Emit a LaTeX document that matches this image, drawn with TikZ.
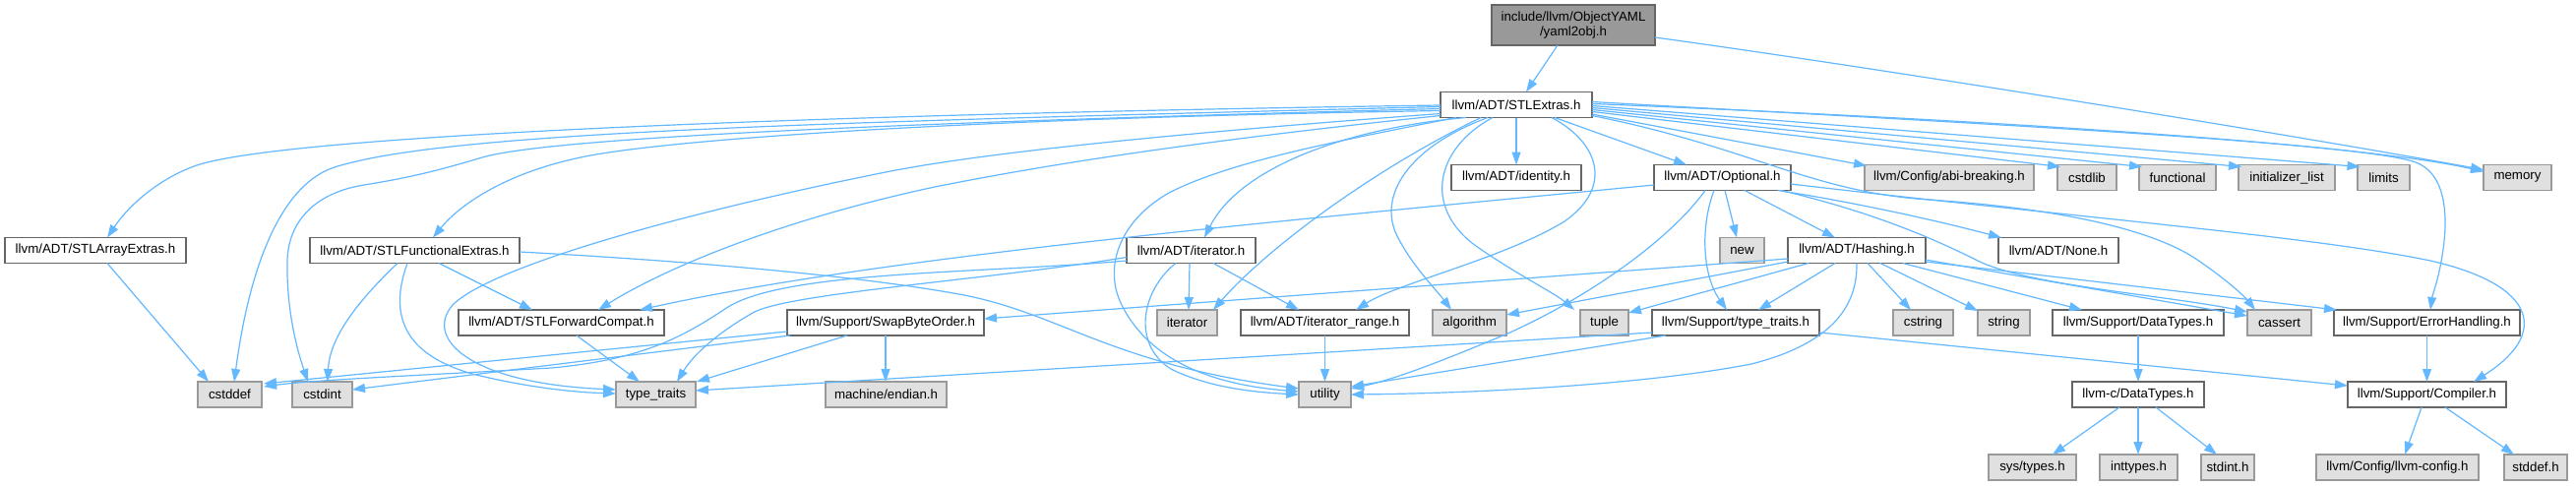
\documentclass[tikz,border=0pt]{standalone}
\usepackage{fontspec}
\setmainfont{Liberation Sans}
\usetikzlibrary{arrows.meta,calc}
\definecolor{edgec}{HTML}{63B8FF}
\definecolor{sysfill}{HTML}{E0E0E0}
\definecolor{sysdraw}{HTML}{999999}
\definecolor{hdrdraw}{HTML}{666666}
\definecolor{rootfill}{HTML}{999999}
\tikzset{
  box/.style={draw=hdrdraw, fill=white, line width=1.2pt, inner sep=0pt, minimum height=26pt, font=\fontsize{13.3}{15}\selectfont},
  sysbox/.style={box, draw=sysdraw, fill=sysfill},
  rootbox/.style={box, fill=rootfill, minimum height=41pt, align=center},
  dep/.style={draw=edgec, line width=1.2pt, -{Triangle[length=13pt,width=9pt]}}
}
\begin{document}
\begin{tikzpicture}[x=1pt,y=-1pt]
\fill[white] (0,0) rectangle (2618,493);
\useasboundingbox (0,0) rectangle (2618,493);
% nodes
\node[rootbox, minimum width=166pt] (root) at (1599,25.5) {include/llvm/ObjectYAML\\/yaml2obj.h};
\node[box, minimum width=154pt] (stl) at (1541,106.5) {llvm/ADT/STLExtras.h};
\node[box, minimum width=132pt] (identity) at (1541,180.5) {llvm/ADT/identity.h};
\node[box, minimum width=139pt] (opt) at (1750.5,180.5) {llvm/ADT/Optional.h};
\node[sysbox, minimum width=172pt] (abi) at (1981,180.5) {llvm/Config/abi-breaking.h};
\node[sysbox, minimum width=60pt] (cstdlib) at (2121,180.5) {cstdlib};
\node[sysbox, minimum width=78pt] (functional) at (2213,180.5) {functional};
\node[sysbox, minimum width=98pt] (initlist) at (2324,180.5) {initializer\_list};
\node[sysbox, minimum width=53pt] (limits) at (2422.5,180.5) {limits};
\node[sysbox, minimum width=69pt] (memory) at (2558.5,180.5) {memory};
\node[box, minimum width=184pt] (arr) at (97,254.5) {llvm/ADT/STLArrayExtras.h};
\node[box, minimum width=213pt] (func) at (421.5,254.5) {llvm/ADT/STLFunctionalExtras.h};
\node[box, minimum width=131pt] (iterh) at (1210.5,254.5) {llvm/ADT/iterator.h};
\node[sysbox, minimum width=45pt] (new) at (1770.5,254.5) {new};
\node[box, minimum width=140pt] (hash) at (1887,254.5) {llvm/ADT/Hashing.h};
\node[box, minimum width=122pt] (none) at (2092,254.5) {llvm/ADT/None.h};
\node[box, minimum width=209pt] (fwd) at (570.5,328) {llvm/ADT/STLForwardCompat.h};
\node[box, minimum width=200pt] (swap) at (900,328) {llvm/Support/SwapByteOrder.h};
\node[sysbox, minimum width=61pt] (iter) at (1206.5,328) {iterator};
\node[box, minimum width=171pt] (range) at (1346.5,328) {llvm/ADT/iterator\_range.h};
\node[sysbox, minimum width=75pt] (algo) at (1493.5,328) {algorithm};
\node[sysbox, minimum width=49pt] (tuple) at (1630.5,328) {tuple};
\node[box, minimum width=170pt] (stt) at (1764,328) {llvm/Support/type\_traits.h};
\node[sysbox, minimum width=61pt] (cstring) at (1954.5,328) {cstring};
\node[sysbox, minimum width=53pt] (string) at (2036.5,328) {string};
\node[box, minimum width=174pt] (dtypes) at (2173,328) {llvm/Support/DataTypes.h};
\node[sysbox, minimum width=65pt] (cassert) at (2316.5,328) {cassert};
\node[box, minimum width=189pt] (err) at (2466.5,328) {llvm/Support/ErrorHandling.h};
\node[sysbox, minimum width=65pt] (cstddef) at (233.5,401) {cstddef};
\node[sysbox, minimum width=61pt] (cstdint) at (327.5,401) {cstdint};
\node[sysbox, minimum width=81pt] (tt) at (666.5,401) {type\_traits};
\node[sysbox, minimum width=123pt] (endian) at (900.5,401) {machine/endian.h};
\node[sysbox, minimum width=53pt] (utility) at (1346.5,401) {utility};
\node[box, minimum width=134pt] (cdt) at (2173,401) {llvm-c/DataTypes.h};
\node[box, minimum width=161pt] (comp) at (2466.5,401) {llvm/Support/Compiler.h};
\node[sysbox, minimum width=89pt] (systypes) at (2065.5,475) {sys/types.h};
\node[sysbox, minimum width=79pt] (inttypes) at (2173.5,475) {inttypes.h};
\node[sysbox, minimum width=54pt] (stdint) at (2264,475) {stdint.h};
\node[sysbox, minimum width=165pt] (llvmcfg) at (2436.5,475) {llvm/Config/llvm-config.h};
\node[sysbox, minimum width=64pt] (stddef) at (2577,475) {stddef.h};
% root edges
\draw[dep] ($(root)+(-16,20.5)$) -- ($(stl)+(10,-13)$);
\draw[dep] ($(root)+(83,12.5)$) .. controls (1900,68) and (2300,132) .. ($(memory)+(-34.5,-8)$);
% STLExtras, left side
\draw[dep] ($(stl)+(-77,0.5)$) .. controls (900,115) and (300,135) .. (200,168) .. controls (160,182) and (130,210) .. ($(arr)+(12,-13)$);
\draw[dep] ($(stl)+(-77,2)$) .. controls (800,125) and (450,135) .. (340,170) .. controls (290,186) and (255,260) .. ($(cstddef)+(4.5,-13)$);
\draw[dep] ($(stl)+(-77,4)$) .. controls (900,125) and (560,140) .. (490,160) .. controls (450,172) and (420,180) .. (370,188) .. controls (320,196) and (293,225) .. (292,265) .. controls (291,310) and (300,350) .. ($(cstdint)+(-14.5,-13)$);
\draw[dep] ($(stl)+(-77,6)$) .. controls (1000,120) and (700,140) .. (600,158) .. controls (520,173) and (470,205) .. ($(func)+(18.5,-13)$);
\draw[dep] ($(stl)+(-77,9)$) .. controls (1200,135) and (1000,155) .. (900,175) .. controls (700,215) and (500,270) .. (460,310) .. controls (430,345) and (480,390) .. ($(tt)+(-40.5,-5)$);
\draw[dep] ($(stl)+(-77,11)$) .. controls (1200,145) and (1050,170) .. (950,190) .. controls (800,222) and (680,270) .. ($(fwd)+(37.5,-13)$);
\draw[dep] ($(stl)+(-61,13)$) .. controls (1350,145) and (1250,165) .. (1190,195) .. controls (1140,222) and (1120,270) .. (1140,310) .. controls (1165,360) and (1220,390) .. ($(utility)+(-26.5,-3)$);
\draw[dep] ($(stl)+(-51,13)$) .. controls (1370,130) and (1260,170) .. ($(iterh)+(13.5,-13)$);
\draw[dep] ($(stl)+(-36,13)$) .. controls (1400,170) and (1290,250) .. ($(iter)+(26.5,-13)$);
\draw[dep] ($(stl)+(-29,13)$) .. controls (1430,150) and (1400,200) .. (1420,240) .. controls (1435,270) and (1460,295) .. ($(algo)+(-18.5,-13)$);
\draw[dep] ($(stl)+(-24,13)$) .. controls (1460,150) and (1445,210) .. (1500,250) .. controls (1540,278) and (1580,298) .. ($(tuple)+(-30.5,-13)$);
\draw[dep] ($(stl)+(0,13)$) -- ($(identity)+(0,-13)$);
\draw[dep] ($(stl)+(36,13)$) .. controls (1625,145) and (1640,190) .. (1590,225) .. controls (1530,262) and (1420,288) .. ($(range)+(31.5,-13)$);
\draw[dep] ($(stl)+(39,13)$) -- ($(opt)+(-36.5,-13)$);
% STLExtras, right side
\draw[dep] ($(stl)+(77,9.5)$) -- ($(abi)+(-84,-12)$);
\draw[dep] ($(stl)+(77,7)$) -- ($(cstdlib)+(-27,-11)$);
\draw[dep] ($(stl)+(77,5)$) -- ($(functional)+(-36,-11)$);
\draw[dep] ($(stl)+(77,3)$) -- ($(initlist)+(-46,-11)$);
\draw[dep] ($(stl)+(77,1)$) -- ($(limits)+(-24,-11)$);
\draw[dep] ($(stl)+(77,-1)$) .. controls (2100,125) and (2420,150) .. ($(memory)+(-34.5,-6)$);
\draw[dep] ($(stl)+(77,11)$) .. controls (1780,150) and (1840,195) .. (1960,203) .. controls (2080,211) and (2180,230) .. (2230,262) .. controls (2260,282) and (2280,300) .. ($(cassert)+(-24.5,-13)$);
\draw[dep] ($(stl)+(77,-3)$) .. controls (2000,125) and (2400,145) .. (2455,165) .. controls (2490,178) and (2487,230) .. (2482,260) .. controls (2478,285) and (2472,300) .. ($(err)+(3.5,-13)$);
% Optional
\draw[dep] ($(opt)+(-8.5,13)$) .. controls (1728,230) and (1730,280) .. ($(stt)+(-9,-13)$);
\draw[dep] ($(opt)+(2.5,13)$) -- ($(new)+(-5.5,-13)$);
\draw[dep] ($(opt)+(22.5,13)$) -- ($(hash)+(-22,-13)$);
\draw[dep] ($(opt)+(-17.5,13)$) .. controls (1700,240) and (1620,300) .. (1530,340) .. controls (1470,365) and (1420,385) .. ($(utility)+(26.5,-6)$);
\draw[dep] ($(opt)+(-69.5,7.5)$) .. controls (1300,225) and (900,260) .. ($(fwd)+(79.5,-13)$);
\draw[dep] ($(opt)+(56.5,13)$) .. controls (1880,205) and (1960,222) .. ($(none)+(-58,-13)$);
\draw[dep] ($(opt)+(59.5,13)$) .. controls (1900,215) and (1960,240) .. (2010,265) .. controls (2060,290) and (2200,300) .. ($(cassert)+(-32.5,-11)$);
\draw[dep] ($(opt)+(69.5,6.5)$) .. controls (2100,220) and (2350,240) .. (2470,265) .. controls (2580,290) and (2590,340) .. ($(comp)+(47.5,-13)$);
% iterator.h
\draw[dep] ($(iterh)+(-1.5,13)$) -- ($(iter)+(1.5,-13)$);
\draw[dep] ($(iterh)+(22.5,13)$) -- ($(range)+(-26.5,-13)$);
\draw[dep] ($(iterh)+(-15.5,13)$) .. controls (1160,295) and (1150,350) .. (1190,375) .. controls (1230,395) and (1280,399) .. ($(utility)+(-26.5,0)$);
\draw[dep] ($(iterh)+(-65.5,10.5)$) .. controls (1000,278) and (800,275) .. (740,312) .. controls (700,338) and (660,365) .. (560,374) .. controls (420,382) and (320,386) .. ($(cstddef)+(34.5,-8)$);
\draw[dep] ($(iterh)+(-65.5,7)$) .. controls (1000,285) and (800,298) .. (765,318) .. controls (730,338) and (705,360) .. ($(tt)+(21.5,-13)$);
\draw[dep] ($(range)+(0,13)$) -- ($(utility)+(0,-13)$);
% STLFunctionalExtras
\draw[dep] ($(func)+(24.5,13)$) -- ($(fwd)+(-29.5,-13)$);
\draw[dep] ($(func)+(-17.5,13)$) .. controls (370,300) and (335,340) .. ($(cstdint)+(5.5,-13)$);
\draw[dep] ($(func)+(-7.5,13)$) .. controls (395,320) and (410,360) .. (480,380) .. controls (540,395) and (590,399) .. ($(tt)+(-40.5,-1)$);
\draw[dep] ($(func)+(106.5,1.5)$) .. controls (750,268) and (900,285) .. (980,300) .. controls (1080,320) and (1130,370) .. ($(utility)+(-26.5,-6)$);
% others
\draw[dep] ($(fwd)+(15.5,13)$) -- ($(tt)+(-16.5,-13)$);
\draw[dep] ($(arr)+(12,13)$) -- ($(cstddef)+(-21.5,-13)$);
\draw[dep] ($(swap)+(-100,9)$) -- ($(cstddef)+(34.5,-11)$);
\draw[dep] ($(swap)+(-97,13)$) -- ($(cstdint)+(30.5,-5)$);
\draw[dep] ($(swap)+(-39,13)$) -- ($(tt)+(41.5,-13)$);
\draw[dep] ($(swap)+(0,13)$) -- ($(endian)+(-0.5,-13)$);
% Hashing
\draw[dep] ($(hash)+(-22,13)$) -- ($(stt)+(23,-13)$);
\draw[dep] ($(hash)+(-49,13)$) -- ($(tuple)+(24.5,-10)$);
\draw[dep] ($(hash)+(-70,11.5)$) -- ($(algo)+(37.5,-8)$);
\draw[dep] ($(hash)+(-70,8.5)$) -- ($(swap)+(100,-4)$);
\draw[dep] ($(hash)+(0,13)$) .. controls (1888,320) and (1850,352) .. (1780,370) .. controls (1660,393) and (1480,400) .. ($(utility)+(26.5,0)$);
\draw[dep] ($(hash)+(11,13)$) -- ($(cstring)+(-12.5,-13)$);
\draw[dep] ($(hash)+(24,13)$) -- ($(string)+(-26.5,-12)$);
\draw[dep] ($(hash)+(47,13)$) -- ($(dtypes)+(-57,-13)$);
\draw[dep] ($(hash)+(70,9.5)$) -- ($(cassert)+(-32.5,-7)$);
\draw[dep] ($(hash)+(70,11.5)$) -- ($(err)+(-91.5,-13)$);
% Support/type_traits.h
\draw[dep] ($(stt)+(-71,13)$) -- ($(utility)+(26.5,-8)$);
\draw[dep] ($(stt)+(-85,10)$) -- ($(tt)+(40.5,-4)$);
\draw[dep] ($(stt)+(85,10)$) -- ($(comp)+(-80.5,-9)$);
% lower right
\draw[dep] ($(dtypes)+(0,13)$) -- ($(cdt)+(0,-13)$);
\draw[dep] ($(cdt)+(-19,13)$) -- ($(systypes)+(20.5,-13)$);
\draw[dep] ($(cdt)+(0,13)$) -- ($(inttypes)+(-0.5,-13)$);
\draw[dep] ($(cdt)+(18,13)$) -- ($(stdint)+(-11,-13)$);
\draw[dep] ($(err)+(0,13)$) -- ($(comp)+(0,-13)$);
\draw[dep] ($(comp)+(-5.5,13)$) -- ($(llvmcfg)+(7.5,-13)$);
\draw[dep] ($(comp)+(18.5,13)$) -- ($(stddef)+(-22,-13)$);
\end{tikzpicture}
\end{document}
